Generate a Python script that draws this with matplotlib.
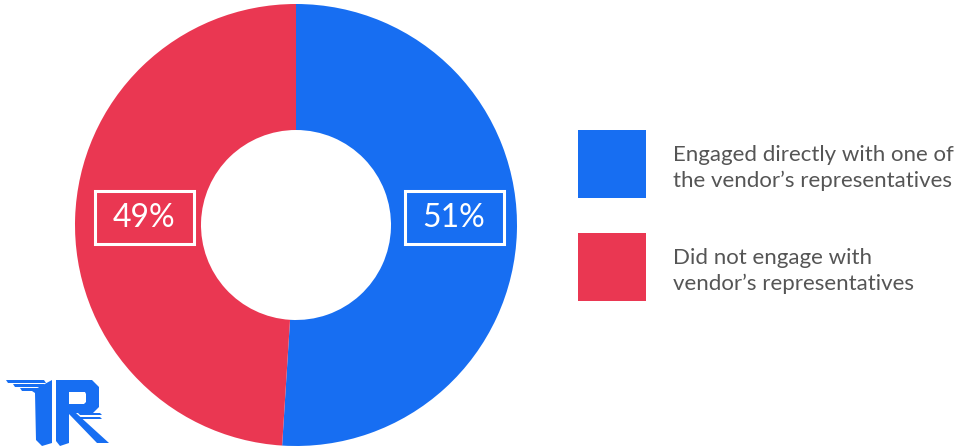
import numpy as np
import matplotlib.pyplot as plt
from matplotlib.patches import Rectangle, Polygon

# survey split
labels = ["Engaged directly with one of\nthe vendor\u2019s representatives",
          "Did not engage with\nvendor\u2019s representatives"]
shares = [51, 49]
colors = ["#176EF2", "#EA3752"]

W, H = 955, 448
fig = plt.figure(figsize=(W / 100, H / 100), dpi=100)
ax = fig.add_axes([0, 0, 1, 1])

cx, cy = 296, H - 225
r_out, r_in = 221, 95

wedges, _ = ax.pie(shares, colors=colors, startangle=90, counterclock=False,
                   radius=r_out, center=(cx, cy),
                   wedgeprops=dict(width=r_out - r_in, linewidth=0))

# value labels inside white-outlined boxes, on the side of each wedge
for w, val in zip(wedges, shares):
    ang = np.deg2rad((w.theta1 + w.theta2) / 2)
    lx = cx + 3 + 155 * np.sign(np.cos(ang))
    ly = H - 217
    ax.add_patch(Rectangle((lx - 49.5, ly - 26.5), 99, 53, fill=False,
                           edgecolor="white", linewidth=2.2, zorder=3))
    ax.text(lx, ly - 1, f"{val}%", color="white", fontsize=23, family="Lato",
            ha="center", va="center", zorder=4)

# legend
for i, (lab, col) in enumerate(zip(labels, colors)):
    top = 130 + i * 103
    ax.add_patch(Rectangle((578, H - top - 68), 68, 68, color=col, linewidth=0))
    ax.text(673, H - top - 38, lab, color="#555555", fontsize=16, family="Lato",
            ha="left", va="center", linespacing=1.4)

# TR logo, bottom left
logo = "#176EF2"
def px(pts):
    return [(x, H - y) for x, y in pts]

# T top stripes
for y0, xl in [(380, 6), (384, 13), (388, 20)]:
    ax.add_patch(Polygon(px([(xl, y0), (44, y0), (46, y0 + 3), (xl + 2, y0 + 3)]),
                         color=logo, linewidth=0))
ax.add_patch(Polygon(px([(32, 391), (52, 380), (52, 443), (42, 446), (36, 440), (35, 393)]),
                     color=logo, linewidth=0))
# R
ax.add_patch(Polygon(px([(56, 380), (92, 380), (99, 387), (99, 407), (93, 413),
                         (76, 413), (109, 443), (97, 443), (69, 414), (69, 443),
                         (60, 446), (56, 441)]), color=logo, linewidth=0))
ax.add_patch(Polygon(px([(69, 392), (85, 392), (86, 394), (86, 402), (84, 404), (69, 404)]),
                     color="white", linewidth=0))
for y0 in [413, 417]:
    ax.add_patch(Polygon(px([(78, y0), (100, y0), (102, y0 + 2), (80, y0 + 2)]),
                         color=logo, linewidth=0))

ax.set_xlim(0, W)
ax.set_ylim(0, H)
ax.set_aspect("equal")
ax.axis("off")

fig.savefig("out.png", dpi=100, facecolor="white")
